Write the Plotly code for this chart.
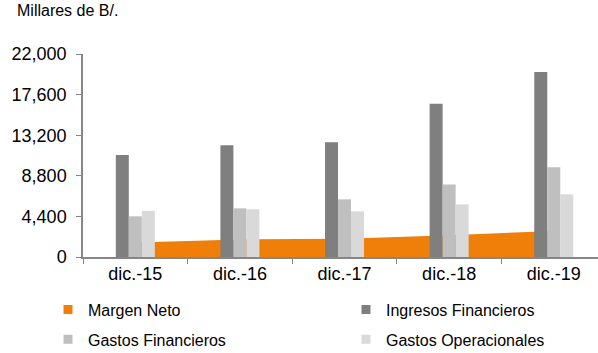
import plotly.graph_objects as go

# Annual figures, thousands of B/.
periods = ["dic.-15", "dic.-16", "dic.-17", "dic.-18", "dic.-19"]
margen_neto = [1560, 1900, 1990, 2360, 2830]
ingresos_financieros = [11060, 12100, 12430, 16620, 20050]
gastos_financieros = [4410, 5270, 6250, 7870, 9720]
gastos_operacionales = [5000, 5170, 4950, 5700, 6790]
y_ticks = [0, 4400, 8800, 13200, 17600, 22000]

ORANGE = "#F07F09"
DARK = "#7F7F7F"
MID = "#BFBFBF"
LIGHT = "#D9D9D9"
AXIS = "#868686"
FONT = "Liberation Sans, Arial, sans-serif"

fig = go.Figure()

# Area sits on the main subplot so the bars (overlay subplot) paint over it
fig.add_trace(go.Scatter(
    x=periods, y=margen_neto, mode="lines", fill="tozeroy",
    line=dict(width=0, color=ORANGE), fillcolor=ORANGE,
    showlegend=False, name="Margen Neto",
))

bar_series = [
    ("Ingresos Financieros", ingresos_financieros, DARK),
    ("Gastos Financieros", gastos_financieros, MID),
    ("Gastos Operacionales", gastos_operacionales, LIGHT),
]
for name, vals, color in bar_series:
    fig.add_trace(go.Bar(
        x=periods, y=vals, name=name, marker=dict(color=color, line_width=0),
        xaxis="x", yaxis="y2", showlegend=False,
    ))

# Legend entries (square swatches), two columns
legend_items = [
    ("Margen Neto", ORANGE, "legend", "a"),
    ("Gastos Financieros", MID, "legend", "b"),
    ("Ingresos Financieros", DARK, "legend2", "a"),
    ("Gastos Operacionales", LIGHT, "legend2", "b"),
]
for name, color, leg, grp in legend_items:
    fig.add_trace(go.Scatter(
        x=[None], y=[None], mode="markers", name=name, legend=leg,
        legendgroup=leg + grp,
        marker=dict(symbol="square", size=9, color=color),
    ))

legend_common = dict(
    orientation="v", yanchor="top", xanchor="left",
    xref="container", yref="container",
    font=dict(family=FONT, size=16, color="#000000"),
    bgcolor="rgba(0,0,0,0)", tracegroupgap=6, itemwidth=30,
)

fig.update_layout(
    width=598, height=353,
    margin=dict(l=83, r=0, t=54, b=96, autoexpand=False),
    paper_bgcolor="white", plot_bgcolor="white",
    font=dict(family=FONT, size=18, color="#000000"),
    barmode="group", bargap=0.627, bargroupgap=0,
    xaxis=dict(
        type="category", range=[-0.5, 4.423],
        showline=True, linecolor=AXIS, linewidth=1.5,
        ticks="outside", tickson="boundaries", ticklen=5, tickcolor=AXIS,
        tickfont=dict(size=18), showgrid=False, zeroline=False,
    ),
    yaxis=dict(
        range=[0, 22000], tickvals=y_ticks, tickformat=",",
        showline=True, linecolor=AXIS, linewidth=1.5,
        ticks="outside", ticklen=5, tickcolor=AXIS,
        tickfont=dict(size=18), ticklabelstandoff=6,
        showgrid=False, zeroline=False,
    ),
    yaxis2=dict(
        range=[0, 22000], overlaying="y", visible=False,
        showgrid=False, zeroline=False,
    ),
    legend=dict(x=0.0803, y=0.171, **legend_common),
    legend2=dict(x=0.5786, y=0.171, **legend_common),
    annotations=[dict(
        text="Millares de B/.", xref="paper", yref="paper",
        x=-0.132, y=1.212, xanchor="left", yanchor="middle",
        showarrow=False, font=dict(family=FONT, size=16, color="#000000"),
    )],
)

fig.write_html("out.html")
